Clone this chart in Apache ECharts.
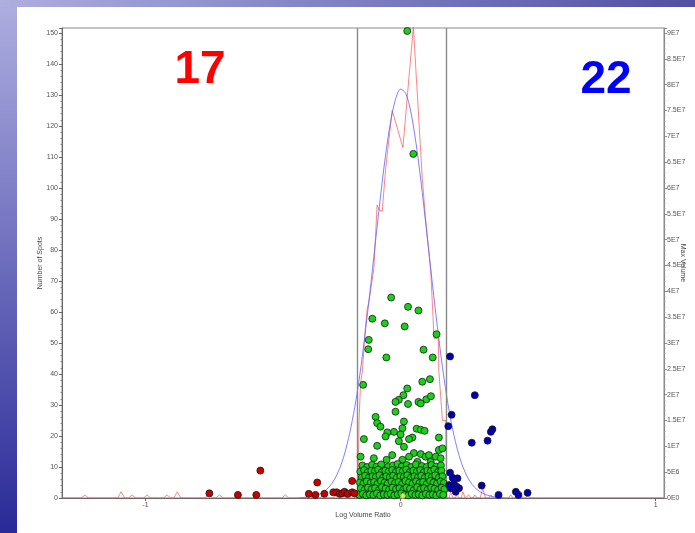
<!DOCTYPE html>
<html><head><meta charset="utf-8">
<script src="https://cdn.jsdelivr.net/npm/echarts@6/dist/echarts.min.js"></script>
<style>html,body{margin:0;padding:0;background:#fff;} #c{width:695px;height:533px;}</style>
</head><body><div id="c"></div>
<script>
// ---- data ----
const xTickValues = [-1, 0, 1];
const leftTickValues = [0,10,20,30,40,50,60,70,80,90,100,110,120,130,140,150];
const rightTickValues = [0,5,10,15,20,25,30,35,40,45,50,55,60,65,70,75,80,85,90]; // Max Volume in 1E6
const cutoffs = [-0.171, 0.182];
const countLeft = '17';
const countRight = '22';

// histogram of log volume ratio: [ratio, number of spots]
const histogram = [
  [-1.33,0],[-1.252,0],[-1.238,1],[-1.224,0],[-1.110,0],[-1.096,2],[-1.082,0],[-1.067,0],[-1.053,1],[-1.039,0],
  [-1.008,0],[-0.994,1],[-0.980,0],[-0.930,0],[-0.916,1],[-0.902,0],[-0.890,0],[-0.876,2],[-0.862,0],
  [-0.768,0],[-0.754,1],[-0.740,0],[-0.725,0],[-0.711,1],[-0.697,0],[-0.654,0],[-0.640,1],[-0.626,0],
  [-0.576,0],[-0.562,1],[-0.548,0],[-0.466,0],[-0.452,1],[-0.438,0],[-0.375,0],[-0.361,1],[-0.347,0],
  [-0.317,0],[-0.303,1],[-0.289,0],[-0.262,0],[-0.248,2],[-0.236,0],[-0.230,0],[-0.224,1],[-0.212,0],
  [-0.200,0],[-0.189,2],[-0.178,0],[-0.168,0],
  [-0.163,25],[-0.157,37],[-0.150,41],[-0.138,55],[-0.131,61],[-0.125,63],[-0.105,74],[-0.092,94.5],
  [-0.085,93],[-0.072,92.5],[-0.059,106],[-0.033,125],[0.009,113],[0.050,152],[0.085,103],[0.098,90],
  [0.118,73.5],[0.127,58.5],[0.131,51.5],[0.148,51.5],[0.150,41],[0.164,25],[0.177,25],[0.181,0],
  [0.190,0],[0.196,2],[0.206,0],[0.214,0],[0.220,1],[0.230,0],[0.238,0],[0.244,2],[0.254,0],
  [0.261,0],[0.267,1],[0.276,0],[0.284,0],[0.291,1],[0.300,0],[0.312,0],[0.322,3],[0.333,0],
  [0.345,0],[0.354,1],[0.364,0],[0.384,0],[0.393,1],[0.402,0],[0.423,0],[0.432,1],[0.441,0],
  [0.463,0],[0.472,1],[0.481,0],[0.490,0],[0.499,1],[0.508,0],[1.04,0]
];

// fitted normal curve: [ratio, number of spots]
const gaussFit = [
  [-0.40,0],[-0.36,0.4],[-0.32,1.2],[-0.30,2.1],[-0.28,3.6],[-0.26,5.9],[-0.24,9.3],[-0.22,14.2],
  [-0.20,20.8],[-0.18,29.2],[-0.16,39.7],[-0.14,52.5],[-0.12,66.6],[-0.10,81.6],[-0.08,96.4],
  [-0.06,110],[-0.04,121],[-0.02,128.6],[0.00,131.9],[0.02,130.5],[0.04,124.6],[0.06,114.7],
  [0.08,102],[0.10,87.5],[0.12,72.5],[0.14,58.1],[0.16,44.8],[0.18,33.2],[0.20,23.8],[0.22,16.5],
  [0.24,11],[0.26,7.1],[0.28,4.4],[0.30,2.7],[0.32,1.6],[0.34,0.9],[0.36,0.5],[0.40,0]
];

// spots: [log volume ratio, max volume (1E6)]
const greenSpots = [
  [0.026,90.4],[0.050,66.6],[-0.037,38.8],[0.029,37.0],[0.070,36.3],[-0.111,34.7],[-0.062,33.8],[0.016,33.2],
  [0.141,31.7],[-0.125,30.6],[-0.127,28.8],[0.090,28.7],[-0.056,27.2],[0.126,27.2],[-0.147,21.9],[0.085,22.5],
  [0.115,23.0],[0.026,21.2],[0.011,19.9],[-0.007,19.0],[-0.020,18.6],[0.070,18.6],[0.079,18.3],[0.101,19.1],
  [0.119,19.7],[0.029,18.2],[-0.020,16.7],[-0.098,15.7],[-0.092,14.5],[-0.079,13.8],[0.013,14.8],[0.007,13.5],
  [0.063,13.4],[0.079,13.2],[0.094,13.0],[-0.026,12.8],[-0.052,12.7],[0.000,12.3],[-0.059,11.9],[0.046,11.7],
  [0.033,11.4],[0.150,11.7],[-0.144,11.4],[-0.007,11.0],[-0.092,10.1],[0.013,9.9],[-0.033,8.3],[0.052,8.7],
  [0.033,8.0],[0.079,8.5],[0.098,8.0],[0.111,8.3],[0.138,8.0],[0.150,9.3],[0.164,9.6],[-0.157,8.0],
  [-0.105,7.7],[-0.055,7.4],[0.007,7.4],[0.066,7.0],[0.118,7.0],[0.157,7.7],
  [-0.150,6.3],[-0.131,6.0],[-0.112,6.4],[-0.094,6.1],[-0.076,6.5],[-0.050,6.0],[-0.030,6.3],[-0.012,6.6],
  [0.005,6.1],[0.024,6.4],[0.041,6.0],[0.060,6.5],[0.083,6.2],[0.102,6.0],[0.121,6.4],[0.140,6.1],[0.158,6.3],
  [-0.158,5.1],[-0.143,5.4],[-0.129,5.0],[-0.115,5.3],[-0.101,5.2],[-0.088,5.5],[-0.074,5.0],[-0.060,5.3],
  [-0.047,5.1],[-0.033,5.4],[-0.019,5.0],[-0.005,5.3],[0.009,5.2],[0.022,5.5],[0.036,5.0],[0.050,5.3],
  [0.064,5.1],[0.077,5.4],[0.091,5.0],[0.105,5.3],[0.119,5.2],[0.132,5.5],[0.146,5.0],[0.160,5.3],
  [-0.152,4.0],[-0.139,4.3],[-0.125,3.9],[-0.110,4.2],[-0.097,4.1],[-0.083,4.4],[-0.069,3.9],[-0.056,4.2],
  [-0.042,4.0],[-0.029,4.3],[-0.015,3.9],[-0.001,4.2],[0.013,4.1],[0.026,4.4],[0.040,3.9],[0.054,4.2],
  [0.068,4.0],[0.081,4.3],[0.095,3.9],[0.109,4.2],[0.123,4.1],[0.136,4.4],[0.150,3.9],[0.164,4.2],
  [-0.160,3.0],[-0.146,2.8],[-0.133,3.2],[-0.118,2.9],[-0.104,3.1],[-0.091,2.7],[-0.077,3.3],[-0.063,3.0],
  [-0.050,2.8],[-0.036,3.2],[-0.022,2.9],[-0.008,3.1],[0.006,2.7],[0.019,3.3],[0.033,3.0],[0.047,2.8],
  [0.061,3.2],[0.074,2.9],[0.088,3.1],[0.102,2.7],[0.116,3.3],[0.129,3.0],[0.143,2.8],[0.157,3.2],[0.169,2.9],
  [-0.156,1.9],[-0.141,1.6],[-0.128,2.0],[-0.114,1.7],[-0.100,1.9],[-0.086,1.5],[-0.073,2.1],[-0.059,1.8],
  [-0.045,1.6],[-0.032,2.0],[-0.018,1.7],[-0.004,1.9],[0.010,1.6],[0.023,2.0],[0.037,1.8],[0.051,1.5],
  [0.065,2.1],[0.078,1.7],[0.092,1.9],[0.106,1.6],[0.120,2.0],[0.133,1.8],[0.147,1.6],[0.161,2.0],[0.172,1.7],
  [-0.162,0.6],[-0.148,0.8],[-0.135,0.5],[-0.121,0.7],[-0.107,0.6],[-0.093,0.9],[-0.080,0.5],[-0.066,0.7],
  [-0.052,0.6],[-0.039,0.8],[-0.025,0.5],[-0.011,0.7],[0.003,0.9],[0.016,0.6],[0.030,0.5],[0.044,0.8],
  [0.058,0.6],[0.071,0.7],[0.085,0.5],[0.099,0.8],[0.113,0.6],[0.126,0.7],[0.140,0.5],[0.154,0.8],[0.167,0.6]
];
const redSpots = [
  [-0.750,0.9],[-0.638,0.6],[-0.566,0.6],[-0.550,5.3],[-0.360,0.8],[-0.334,0.6],[-0.327,3.0],[-0.299,0.8],
  [-0.264,1.1],[-0.251,1.1],[-0.239,0.8],[-0.229,0.9],[-0.220,1.2],[-0.208,0.8],[-0.190,3.3],[-0.190,1.1],[-0.181,0.9]
];
const blueSpots = [
  [0.194,27.4],[0.291,19.9],[0.200,16.1],[0.187,13.9],[0.360,13.3],[0.354,12.8],[0.341,11.1],[0.279,10.7],
  [0.194,4.9],[0.223,3.8],[0.190,2.5],[0.209,2.7],[0.220,2.2],[0.229,1.9],[0.216,1.2],[0.196,1.9],
  [0.318,2.4],[0.384,0.6],[0.452,1.2],[0.462,0.6],[0.498,1.0],[0.204,3.9]
];
const yellowSpots = [[0.009,0.4]];

// ---- chart ----
const chart = echarts.init(document.getElementById('c'), null, {renderer:'canvas'});
const tickFont = {fontFamily:'Arial, Liberation Sans', fontSize:7, color:'#555'};
const spotStyle = (c) => ({color:c, borderColor:'#1a1a1a', borderWidth:0.8, opacity:1});
const rightFmt = v => v === 0 ? '0E0' : (v < 10 ? v + 'E6' : (v/10) + 'E7');
const leftMax = 151.6, rightMax = 90.97;

chart.setOption({
  animation:false,
  backgroundColor:'#ffffff',
  graphic:[
    {type:'rect', z:-10, silent:true, shape:{x:0,y:0,width:695,height:533},
     style:{fill:new echarts.graphic.LinearGradient(0,0,0,1,[{offset:0,color:'#aeaee0'},{offset:1,color:'#2a2a98'}])}},
    {type:'rect', z:-9, silent:true, shape:{x:0,y:0,width:695,height:7},
     style:{fill:new echarts.graphic.LinearGradient(0,0,1,0,[{offset:0,color:'#aeaee0'},{offset:1,color:'#5050a4'}])}},
    {type:'rect', z:-8, silent:true, shape:{x:17,y:7,width:678,height:526}, style:{fill:'#ffffff'}},
    {type:'text', z:50, silent:true, style:{text:countLeft, x:200, y:70, align:'center', verticalAlign:'middle',
      font:'bold 46px Arial, "Liberation Sans", sans-serif', fill:'#ff0000'}},
    {type:'text', z:50, silent:true, style:{text:countRight, x:606, y:80, align:'center', verticalAlign:'middle',
      font:'bold 46px Arial, "Liberation Sans", sans-serif', fill:'#0000ff'}}
  ],
  grid:{left:62, right:31, top:28, bottom:35, show:true, borderColor:'#8a8a8a', borderWidth:1,
        backgroundColor:'#ffffff', outerBoundsMode:'none', containLabel:false},
  xAxis:{type:'value', min:-1.328, max:1.033,
    name:'Log Volume Ratio', nameLocation:'middle', nameGap:14, nameMoveOverlap:false,
    nameTextStyle:{fontFamily:'Arial, Liberation Sans', fontSize:7, color:'#444'},
    axisLine:{onZero:false, lineStyle:{color:'#666', width:1}},
    axisTick:{customValues:xTickValues, length:3, lineStyle:{color:'#666'}},
    axisLabel:Object.assign({customValues:xTickValues, margin:4, formatter:v=>String(v)}, tickFont),
    splitLine:{show:false}},
  yAxis:[
    {type:'value', min:0, max:leftMax, interval:10, position:'left',
     name:'Number of Spots', nameLocation:'middle', nameGap:18, nameRotate:90, nameMoveOverlap:false,
     nameTextStyle:{fontFamily:'Arial, Liberation Sans', fontSize:7, color:'#444'},
     axisLine:{show:true, onZero:false, lineStyle:{color:'#666'}},
     axisTick:{show:true, length:3, lineStyle:{color:'#666'}},
     minorTick:{show:true, splitNumber:5, length:1.5, lineStyle:{color:'#888'}},
     axisLabel:Object.assign({customValues:leftTickValues, margin:4}, tickFont),
     splitLine:{show:false}},
    {type:'value', min:0, max:rightMax, interval:5, position:'right',
     name:'Max Volume', nameLocation:'middle', nameGap:15, nameRotate:-90, nameMoveOverlap:false,
     nameTextStyle:{fontFamily:'Arial, Liberation Sans', fontSize:7, color:'#444'},
     axisLine:{show:true, onZero:false, lineStyle:{color:'#888'}},
     axisTick:{show:true, length:3, lineStyle:{color:'#888'}},
     minorTick:{show:true, splitNumber:5, length:1.5, lineStyle:{color:'#999'}},
     axisLabel:Object.assign({customValues:rightTickValues, margin:3, formatter:rightFmt}, tickFont),
     splitLine:{show:false}}
  ],
  series:[
    {type:'line', name:'cutoffs', data:[], yAxisIndex:0, silent:true,
     markLine:{silent:true, symbol:'none', label:{show:false},
       lineStyle:{color:'#8a8a8a', width:1.4, type:'solid'},
       data:cutoffs.map(v=>({xAxis:v}))}},
    {type:'line', name:'histogram', data:histogram, yAxisIndex:0, showSymbol:false, symbol:'none',
     lineStyle:{color:'#ff5050', width:1, opacity:0.7}, z:3},
    {type:'line', name:'fit', data:gaussFit, yAxisIndex:0, showSymbol:false, symbol:'none', smooth:0.3,
     lineStyle:{color:'#6060ff', width:1, opacity:0.8}, z:3},
    {type:'scatter', name:'green', data:greenSpots, yAxisIndex:1, symbolSize:7, itemStyle:spotStyle('#19d119'), z:5},
    {type:'scatter', name:'red', data:redSpots, yAxisIndex:1, symbolSize:7, itemStyle:spotStyle('#c80000'), z:5},
    {type:'scatter', name:'blue', data:blueSpots, yAxisIndex:1, symbolSize:7, itemStyle:spotStyle('#0000b0'), z:5},
    {type:'scatter', name:'yellow', data:yellowSpots, yAxisIndex:1, symbolSize:5, itemStyle:{color:'#ffff40', borderColor:'#aaa', borderWidth:0.5}, z:6}
  ]
});
</script>
</body></html>
